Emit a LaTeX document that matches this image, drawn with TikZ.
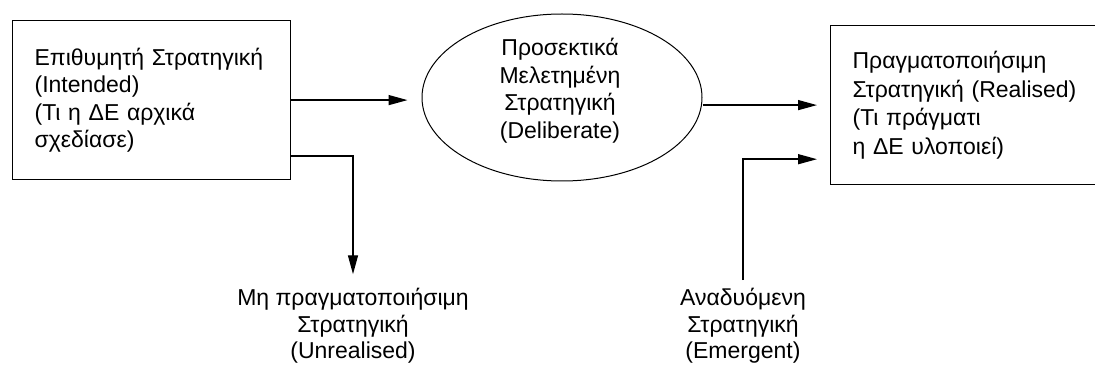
\documentclass[tikz,border=0pt]{standalone}
\usepackage{fontspec}
\setmainfont{Liberation Sans}
\usetikzlibrary{arrows.meta,shapes.geometric,positioning}
\begin{document}
\begin{tikzpicture}[x=1pt,y=-1pt,
  every node/.style={font=\fontsize{23}{27.5}\selectfont},
  boxnode/.style={draw, line width=1.2pt, inner xsep=22pt, align=left, anchor=north west},
  ellnode/.style={draw, ellipse, line width=1pt, inner sep=0pt, align=center},
  lbl/.style={align=center, inner sep=0pt, font=\fontsize{23}{26.5}\selectfont},
  arr/.style={line width=1.4pt, -{Triangle[length=19pt,width=10pt]}}]
\useasboundingbox (0,0) rectangle (1095,374);
\node[boxnode, minimum width=278pt, minimum height=159pt, text width=234pt] (int) at (12,20)
  {Επιθυμητή Στρατηγική\\(Intended)\\(Τι η ΔΕ αρχικά\\σχεδίασε)};
\node[ellnode, minimum width=280pt, minimum height=167pt,
  label={[align=center, inner sep=0pt, xshift=-2pt, yshift=7pt]center:{Προσεκτικά\\Μελετημένη\\Στρατηγική\\(Deliberate)}}] (del) at (562,97.5) {};
\node[boxnode, minimum width=275pt, minimum height=159pt, text width=231pt,
  font=\fontsize{23}{28.5}\selectfont] (real) at (830,25)
  {Πραγματοποιήσιμη\\Στρατηγική (Realised)\\(Τι πράγματι\\η ΔΕ υλοποιεί)};
\node[lbl] (unr) at (353,326) {Μη πραγματοποιήσιμη\\Στρατηγική\\(Unrealised)};
\node[lbl] (emg) at (743,326) {Αναδυόμενη\\Στρατηγική\\(Emergent)};
\coordinate (intlow) at ([yshift=24pt]int.south east);
\coordinate (reallow) at ([yshift=26pt]real.south west);
\draw[arr, shorten >=14pt] (int.east) -- (int.east -| del.west);
\draw[arr, shorten >=13pt] (real.west -| del.east) -- (real.west);
\draw[arr] (intlow) -| ([yshift=14pt]unr.north);
\draw[arr, shorten >=13pt] ([yshift=8pt]emg.north) |- (reallow);
\end{tikzpicture}
\end{document}
